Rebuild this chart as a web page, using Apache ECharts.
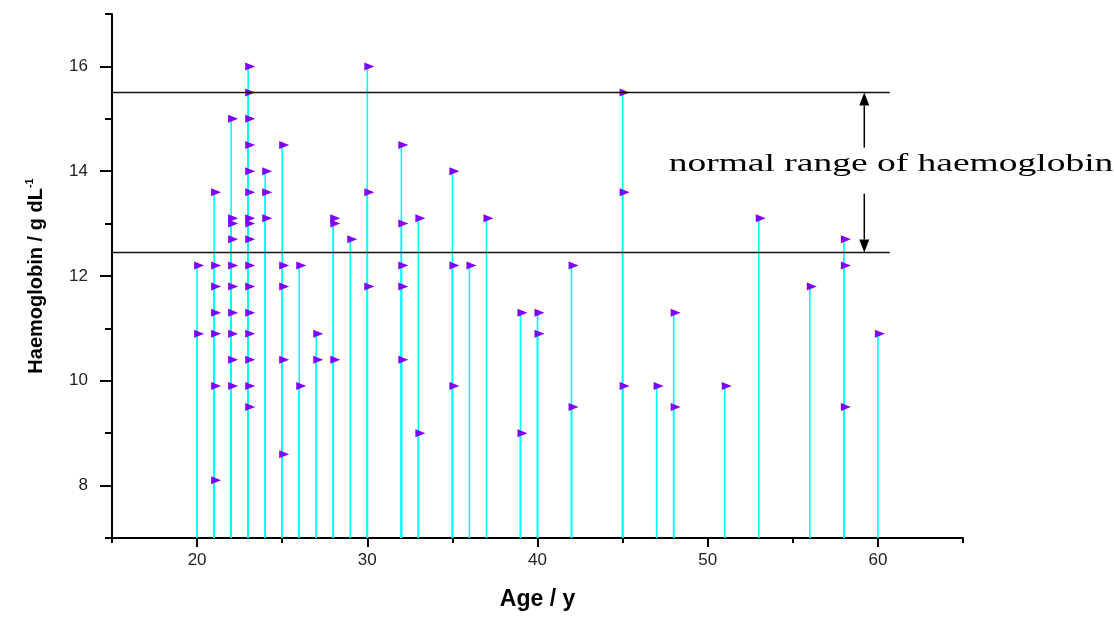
<!DOCTYPE html>
<html>
<head>
<meta charset="utf-8">
<script src="https://cdn.jsdelivr.net/npm/echarts@6/dist/echarts.min.js"></script>
<style>
html,body{margin:0;padding:0;background:#fff;}
#chart{width:1114px;height:618px;}
</style>
</head>
<body>
<div id="chart"></div>
<script>
// ---- data ----
const ages = [20,21,22,23,24,25,26,27,28,29,30,32,33,35,36,37,39,40,42,45,47,48,51,53,56,58,60];
const haemoglobin = [
  [12.2,10.9],
  [13.6,12.2,11.8,11.3,10.9,9.9,8.1],
  [15.0,13.1,13.0,12.7,12.2,11.8,11.3,10.9,10.4,9.9],
  [16.0,15.5,15.0,14.5,14.0,13.6,13.1,13.0,12.7,12.2,11.8,11.3,10.9,10.4,9.9,9.5],
  [14.0,13.6,13.1],
  [14.5,12.2,11.8,10.4,8.6],
  [12.2,9.9],
  [10.9,10.4],
  [13.1,13.0,10.4],
  [12.7],
  [16.0,13.6,11.8],
  [14.5,13.0,12.2,11.8,10.4],
  [13.1,9.0],
  [14.0,12.2,9.9],
  [12.2],
  [13.1],
  [11.3,9.0],
  [11.3,10.9],
  [12.2,9.5],
  [15.5,13.6,9.9],
  [9.9],
  [11.3,9.5],
  [9.9],
  [13.1],
  [11.8],
  [12.7,12.2,9.5],
  [10.9]
];
const xMin = 15, xMax = 65;
const yMin = 7, yMax = 17;
const xMajorTicks = [20,30,40,50,60];
const xMinorTicks = [15,25,35,45,55,65];
const yMajorTicks = [8,10,12,14,16];
const yMinorTicks = [7,9,11,13,15,17];
const normalLow = 12.45, normalHigh = 15.5;
const normalLineEnd = 60.7;
const arrowAge = 59.2;
const arrowUpFrom = 14.45, arrowDownFrom = 13.57;
const annotationText = 'normal range of haemoglobin';
const xName = 'Age / y';
const yName = 'Haemoglobin / g dL{sup|-1}';

const points = [];
ages.forEach((a, i) => haemoglobin[i].forEach(v => points.push([a, v])));

const chart = echarts.init(document.getElementById('chart'), null, {renderer: 'canvas'});
const sansFont = 'Liberation Sans, Arial, sans-serif';

function arrow(api, fromV, toV) {
  const p1 = api.coord([arrowAge, fromV]);
  const p2 = api.coord([arrowAge, toV]);
  const dir = p2[1] > p1[1] ? 1 : -1;
  const headLen = 13, headHalf = 5;
  return [
    {type: 'line', shape: {x1: p1[0], y1: p1[1], x2: p2[0], y2: p2[1] - dir * headLen}, style: {stroke: '#000', lineWidth: 1.5}},
    {type: 'polygon', shape: {points: [[p2[0], p2[1]], [p2[0] - headHalf, p2[1] - dir * headLen], [p2[0] + headHalf, p2[1] - dir * headLen]]}, style: {fill: '#000'}}
  ];
}

const option = {
  backgroundColor: '#fff',
  animation: false,
  grid: {left: 112, right: 151, top: 14, bottom: 80},
  xAxis: [
    {
      type: 'value', min: xMin, max: xMax,
      axisLine: {show: true, lineStyle: {color: '#000', width: 2}},
      axisTick: {show: true, length: 9, customValues: xMajorTicks, lineStyle: {color: '#000', width: 2}},
      axisLabel: {show: true, customValues: xMajorTicks, margin: 14, fontSize: 17, color: '#222', fontFamily: sansFont},
      splitLine: {show: false},
      name: xName, nameLocation: 'middle', nameGap: 50,
      nameTextStyle: {fontSize: 23, fontWeight: 'bold', color: '#000', fontFamily: sansFont}
    },
    {
      type: 'value', min: xMin, max: xMax, position: 'bottom',
      axisLine: {show: false},
      axisTick: {show: true, length: 5, customValues: xMinorTicks, lineStyle: {color: '#000', width: 2}},
      axisLabel: {show: false},
      splitLine: {show: false}
    }
  ],
  yAxis: [
    {
      type: 'value', min: yMin, max: yMax,
      axisLine: {show: true, lineStyle: {color: '#000', width: 2}},
      axisTick: {show: true, length: 12, customValues: yMajorTicks, lineStyle: {color: '#000', width: 2}},
      axisLabel: {show: true, customValues: yMajorTicks, margin: 24, fontSize: 17, color: '#222', fontFamily: sansFont},
      splitLine: {show: false},
      name: yName, nameLocation: 'middle', nameRotate: 90, nameGap: 64,
      nameTextStyle: {
        fontSize: 20, fontWeight: 'bold', color: '#000', fontFamily: sansFont,
        rich: {sup: {fontSize: 11, fontWeight: 'bold', color: '#000', fontFamily: sansFont, verticalAlign: 'top', lineHeight: 24}}
      }
    },
    {
      type: 'value', min: yMin, max: yMax, position: 'left',
      axisLine: {show: false},
      axisTick: {show: true, length: 7, customValues: yMinorTicks, lineStyle: {color: '#000', width: 2}},
      axisLabel: {show: false},
      splitLine: {show: false}
    }
  ],
  series: [
    {
      type: 'custom',
      name: 'drop lines',
      silent: true,
      data: points,
      encode: {x: 0, y: 1},
      renderItem: function (params, api) {
        const x = api.value(0), y = api.value(1);
        const p1 = api.coord([x, yMin]);
        const p2 = api.coord([x, y]);
        return {type: 'line', shape: {x1: p1[0], y1: p1[1], x2: p2[0], y2: p2[1]}, style: {stroke: '#00ffff', lineWidth: 1.6}};
      },
      z: 1
    },
    {
      type: 'scatter',
      name: 'haemoglobin',
      data: points,
      symbol: 'path://M0,0L10,4L0,8Z',
      symbolSize: [10, 8],
      symbolOffset: [2, 0],
      itemStyle: {color: '#8000ff', opacity: 1},
      z: 3,
      markLine: {
        silent: true,
        symbol: 'none',
        label: {show: false},
        lineStyle: {color: '#111', width: 1.3, type: 'solid'},
        data: [
          [{coord: [xMin, normalHigh]}, {coord: [normalLineEnd, normalHigh]}],
          [{coord: [xMin, normalLow]}, {coord: [normalLineEnd, normalLow]}]
        ]
      }
    },
    {
      type: 'custom',
      name: 'arrows',
      silent: true,
      data: [[arrowAge, normalHigh]],
      renderItem: function (params, api) {
        return {type: 'group', children: arrow(api, arrowUpFrom, normalHigh).concat(arrow(api, arrowDownFrom, normalLow))};
      },
      z: 4
    }
  ],
  graphic: [
    {
      type: 'text',
      x: 891, y: 164,
      scaleX: 1.5,
      style: {
        text: annotationText,
        font: '25px "Liberation Serif", "Times New Roman", serif',
        fill: '#000',
        align: 'center',
        verticalAlign: 'middle'
      }
    }
  ]
};
chart.setOption(option);
</script>
</body>
</html>
